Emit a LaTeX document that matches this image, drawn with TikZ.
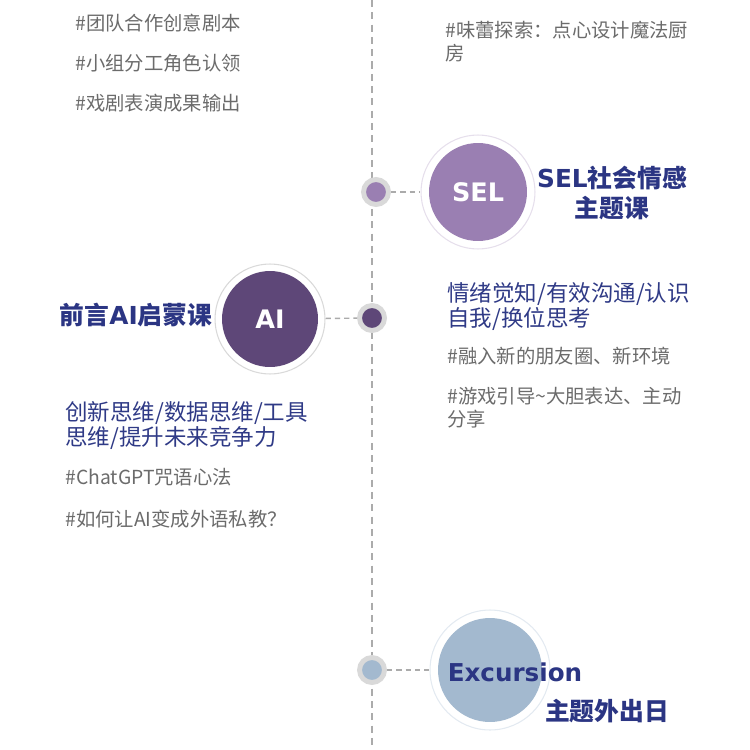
\documentclass[tikz,border=0pt]{standalone}
\usepackage{fontspec}
\setmainfont{Noto Sans CJK SC}
\newfontfamily\heavy{DejaVu Sans}
\usepackage{tikz}
\usetikzlibrary{calc}
\definecolor{selc}{HTML}{9A7FB2}
\definecolor{aic}{HTML}{5E4778}
\definecolor{excc}{HTML}{A3B9CF}
\definecolor{ttlblue}{HTML}{2B3583}
\definecolor{txtblue}{HTML}{2F3A86}
\definecolor{txtgray}{HTML}{6B6B6B}
\definecolor{dashgray}{HTML}{ABABAB}
\definecolor{ringgray}{HTML}{D9D9D9}
\tikzstyle{dot} = [circle, draw=ringgray, line width=2.8pt, minimum size=0.5cm, inner sep=0pt]
\tikzstyle{ring} = [circle, draw, line width=0.6pt, fill=white, inner sep=0pt]
\tikzstyle{ball} = [circle, inner sep=0pt, text=white, font=\heavy\bfseries\fontsize{14.5}{16}\selectfont]
\tikzstyle{link} = [draw=dashgray, dash pattern=on 3pt off 2.3pt, line width=0.8pt]
\tikzstyle{gtxt} = [anchor=north west, inner sep=0pt, text=txtgray, align=left, font=\fontsize{11}{13}\selectfont]
\tikzstyle{btxt} = [anchor=north west, inner sep=0pt, text=txtblue, align=left, font=\fontsize{12.8}{14.2}\selectfont]
\tikzstyle{ttl} = [inner sep=0pt, text=ttlblue, align=center, font=\bfseries\fontsize{14.1}{17}\selectfont]

\begin{document}
\begin{tikzpicture}[x=0.02cm,y=-0.02cm]
				\useasboundingbox (0,0) rectangle (750,750);
				\coordinate (top) at (372,0);
				\coordinate (bottom) at (372,750);
				\draw[link, dash pattern=on 4pt off 3pt] (top) -- (bottom);
				%%%%%%%%%%%%%%%%%%%%%%%%%%%%%%%%%%
				\node[ring, draw=selc!25, minimum size=2.28cm] (selring) at (478,192) {};
				\node[ball, fill=selc, minimum size=1.96cm] (sel) at (478,192) {SEL};
				\node[dot, fill=selc] (seldot) at (376,192) {};
				\node[ring, draw=ringgray, minimum size=2.2cm] (airing) at (270,319) {};
				\node[ball, fill=aic, minimum size=1.92cm] (ai) at (270,319) {AI};
				\node[dot, fill=aic] (aidot) at (372,318) {};
				\node[ring, draw=excc!30, minimum size=2.4cm] (excring) at (490,670) {};
				\node[ball, fill=excc, minimum size=2.08cm] (exc) at (490,670) {};
				\node[dot, fill=excc] (excdot) at (372,670) {};
				%%%%%%%%%%%%%%%%%%%%%%%%%%%%%%%%%%
				\draw[link] (seldot) -- (selring);
				\draw[link] (airing) -- (aidot);
				\draw[link] (excdot) -- (excring);
				%%%%%%%%%%%%%%%%%%%%%%%%%%%%%%%%%%
				\node[ttl] (selttl) at (612,193) {{\heavy SEL}社会情感\\主题课};
				\node[ttl] (aittl) at (136,315) {前言{\heavy AI}启蒙课};
				\node[ttl, font=\heavy\bfseries\fontsize{14}{17}\selectfont] (excttl) at (515,672) {Excursion};
				\node[ttl] (excsub) at (607,711) {主题外出日};
				%%%%%%%%%%%%%%%%%%%%%%%%%%%%%%%%%%
				\node[gtxt] (t1) at (75,14) {\#团队合作创意剧本};
				\node[gtxt] (t2) at (75,54) {\#小组分工角色认领};
				\node[gtxt] (t3) at (75,94) {\#戏剧表演成果输出};
				\node[gtxt] (t4) at (445,21) {\#味蕾探索：点心设计魔法厨\\房};
				\node[btxt] (s1) at (447,282) {情绪觉知/有效沟通/认识\\自我/换位思考};
				\node[gtxt] (s2) at (447,347) {\#融入新的朋友圈、新环境};
				\node[gtxt] (s3) at (447,387) {\#游戏引导\textasciitilde 大胆表达、主动\\分享};
				\node[btxt] (a1) at (65,401) {创新思维/数据思维/工具\\思维/提升未来竞争力};
				\node[gtxt] (a2) at (65,468) {\#ChatGPT咒语心法};
				\node[gtxt] (a3) at (65,510) {\#如何让AI变成外语私教？};
			\end{tikzpicture}
\end{document}
